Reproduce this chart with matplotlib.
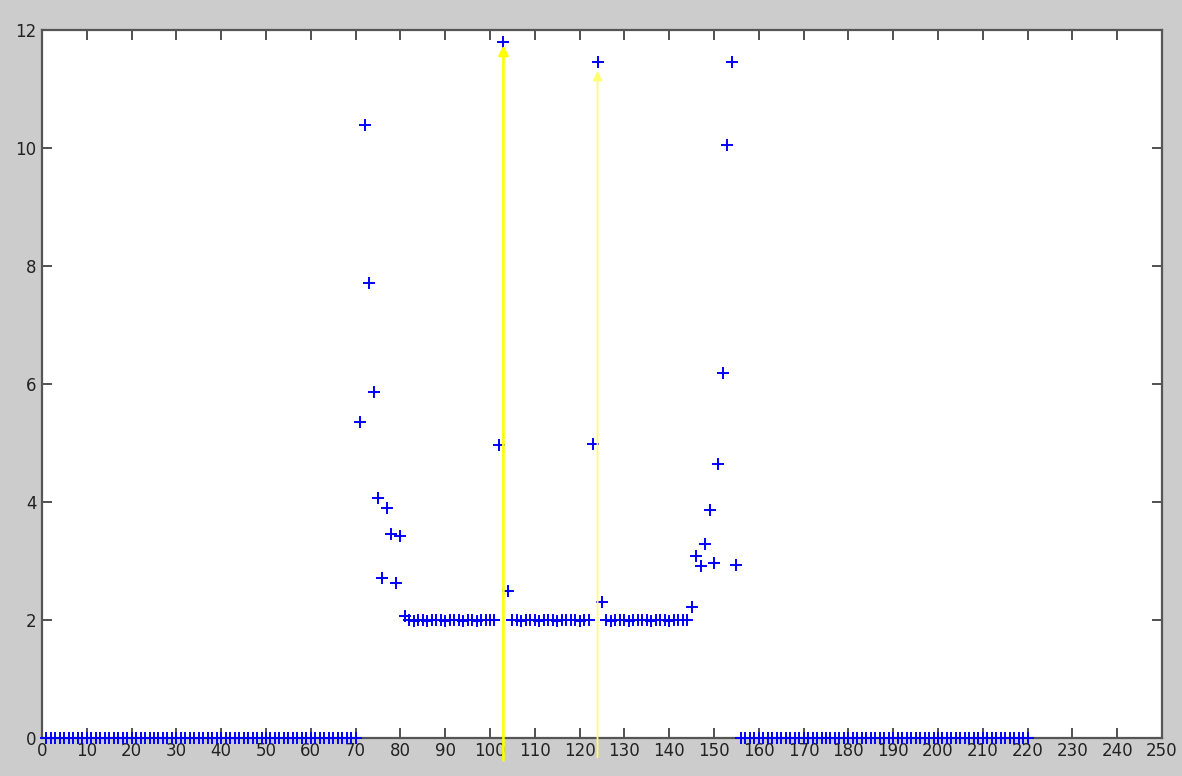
import numpy as np
import matplotlib
matplotlib.use("Agg")
import matplotlib.pyplot as plt

# ---- data ----
x_start = 1                       # first sample index
zeros_left = [0.0] * 70           # samples 1..70
rise = [5.36, 10.39, 7.72, 5.86, 4.06, 2.72, 3.90, 3.45, 2.63, 3.43, 2.07]   # 71..81
plateau_a = [2.0, 1.98, 2.0, 2.0, 1.98, 2.0, 2.0, 2.0, 1.98, 2.0,
             2.0, 2.0, 1.98, 2.0, 2.0, 1.98, 2.0, 2.0, 2.0, 2.0]                # 82..101
peak_a = [4.97, 11.80, 2.50]                                                   # 102..104
plateau_b = [2.0, 2.0, 1.98, 2.0, 2.0, 2.0, 1.98, 2.0, 2.0, 2.0,
             1.98, 2.0, 2.0, 2.0, 2.0, 1.98, 2.0, 2.0]                         # 105..122
peak_b = [4.99, 11.46, 2.30]                                                   # 123..125
plateau_c = [2.0, 1.98, 2.0, 2.0, 2.0, 1.98, 2.0, 2.0, 2.0, 2.0,
             1.98, 2.0, 2.0, 2.0, 1.98, 2.0, 2.0, 2.0, 2.0]                    # 126..144
fall = [2.22, 3.08, 2.91, 3.28, 3.87, 2.96, 4.65, 6.18, 10.05, 11.46, 2.94]    # 145..155
zeros_right = [0.0] * 65          # samples 156..220

arrow_x = [103, 124]
arrow_tip = [11.74, 11.31]
arrow_base = [-0.38, -0.33]

xticks = list(range(0, 251, 10))
yticks = list(range(0, 13, 2))

y = np.array(zeros_left + rise + plateau_a + peak_a + plateau_b + peak_b
             + plateau_c + fall + zeros_right)
x = np.arange(x_start, x_start + len(y))

# ---- figure ----
W, H = 1182, 776
fig = plt.figure(figsize=(W / 100, H / 100), dpi=100, facecolor="#cccccc")
ax = fig.add_axes([42 / W, 1 - 738 / H, (1162 - 42) / W, (738 - 30) / H])
ax.set_facecolor("white")

ax.plot(x, y, linestyle="none", marker="+", markersize=9, markeredgewidth=1.4,
        color="#0000ff", zorder=3, clip_on=False)

arrow_styles = [dict(color="#ffff00", lw=1.9), dict(color="#ffff70", lw=1.3)]
for ax_x, tip, base, st in zip(arrow_x, arrow_tip, arrow_base, arrow_styles):
    ax.annotate("", xy=(ax_x, tip), xytext=(ax_x, base),
                arrowprops=dict(arrowstyle="-|>", color=st["color"], lw=st["lw"],
                                mutation_scale=14, shrinkA=0, shrinkB=0),
                annotation_clip=False, zorder=4)

ax.set_xlim(0, 250)
ax.set_ylim(0, 12)
ax.set_xticks(xticks)
ax.set_yticks(yticks)
ax.tick_params(direction="in", length=7, width=1.2, color="#333333",
               top=True, right=True, labelsize=12, labelcolor="#222222", pad=4)
ax.tick_params(axis="x", pad=3)
for sp in ax.spines.values():
    sp.set_color("#555555")
    sp.set_linewidth(1.6)

fig.savefig("out.png", dpi=100, facecolor=fig.get_facecolor())
